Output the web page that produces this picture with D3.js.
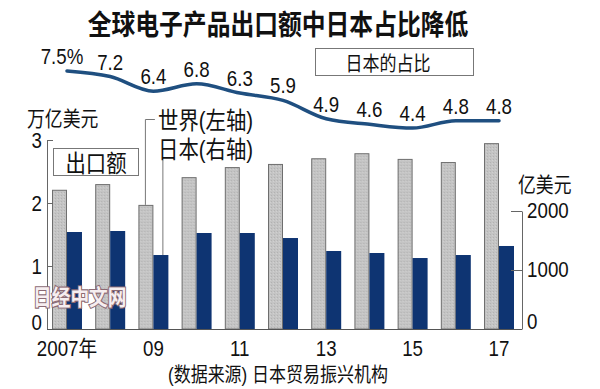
<!DOCTYPE html>
<html>
<head>
<meta charset="utf-8">
<script src="https://cdn.jsdelivr.net/npm/d3@7"></script>
<style>
  body { margin: 0; background: #fff; }
  svg { display: block; }
  text { font-family: "Liberation Sans", "Noto Sans CJK SC", sans-serif; fill: #111; }
</style>
</head>
<body>
<div class="canvas"></div>
<script>
// data
const years = [2007, 2008, 2009, 2010, 2011, 2012, 2013, 2014, 2015, 2016, 2017];
const yearLabels = ['2007年', '', '09', '', '11', '', '13', '', '15', '', '17'];
const worldExports = [2.21, 2.30, 1.97, 2.41, 2.57, 2.62, 2.71, 2.79, 2.70, 2.65, 2.95]; // 万亿美元 (left)
const japanExports = [1644, 1661, 1254, 1627, 1627, 1542, 1322, 1288, 1203, 1254, 1407]; // 亿美元 (right)
const japanShare = [7.5, 7.2, 6.4, 6.8, 6.3, 5.9, 4.9, 4.6, 4.4, 4.8, 4.8]; // %
const shareLabels = ['7.5%', '7.2', '6.4', '6.8', '6.3', '5.9', '4.9', '4.6', '4.4', '4.8', '4.8'];
const leftTicks = [0, 1, 2, 3];
const rightTicks = [0, 1000, 2000];

// dimensions
const dims = { width: 600, height: 389 };
const axisL = 47, axisR = 522, base = 329;
const sx = 0.85; // the lettering in the picture is squeezed sideways

const svg = d3.select('.canvas')
  .append('svg')
  .attr('width', dims.width)
  .attr('height', dims.height);

// little stipple for the grey bars
const pat = svg.append('defs').append('pattern')
  .attr('id', 'dots')
  .attr('width', 3).attr('height', 3)
  .attr('patternUnits', 'userSpaceOnUse');
pat.append('rect').attr('width', 3).attr('height', 3).attr('fill', '#c4c4c4');
pat.append('rect').attr('width', 1).attr('height', 1).attr('fill', '#b2b2b2');
pat.append('rect').attr('x', 2).attr('y', 1).attr('width', 1).attr('height', 1).attr('fill', '#d0d0d0');

// scales
const x = d3.scaleBand().domain(years).range([52, 514]).paddingInner(0.306).paddingOuter(0);
const x1 = d3.scaleBand().domain(['world', 'japan']).range([0, x.bandwidth()]);
const yL = d3.scaleLinear().domain([0, 3]).range([base, 140]);
const yR = d3.scaleLinear().domain([0, 2000]).range([base, 211]);
const yS = d3.scaleLinear().domain([4.4, 7.5]).range([128, 71]);

// helper for squeezed text
const label = (sel, str, px, py, size, anchor = 'start', weight = 'normal') =>
  sel.append('text')
    .attr('transform', `translate(${px},${py}) scale(${sx},1)`)
    .attr('font-size', size)
    .attr('font-weight', weight)
    .attr('text-anchor', anchor)
    .text(str);

// title
label(svg, '全球电子产品出口额中日本占比降低', 278, 35, 28, 'middle', 'bold')
  .style('font-family', '"Noto Sans CJK SC", sans-serif');

// bars
const groups = svg.append('g').selectAll('g')
  .data(years)
  .enter().append('g')
  .attr('transform', d => `translate(${x(d)},0)`);

groups.append('rect')
  .attr('x', x1('world') + 0.5)
  .attr('y', (d, i) => yL(worldExports[i]) + 0.5)
  .attr('width', x1.bandwidth() - 1)
  .attr('height', (d, i) => base - yL(worldExports[i]) - 0.5)
  .attr('fill', 'url(#dots)')
  .attr('stroke', '#6e6e6e')
  .attr('stroke-width', 1);

groups.append('rect')
  .attr('x', x1('japan'))
  .attr('y', (d, i) => yR(japanExports[i]))
  .attr('width', x1.bandwidth())
  .attr('height', (d, i) => base - yR(japanExports[i]))
  .attr('fill', '#0e3472');

// left axis (ticks point inward)
const gL = svg.append('g')
  .attr('transform', `translate(${axisL},0)`)
  .call(d3.axisLeft(yL).tickValues(leftTicks).tickFormat(d3.format('d'))
    .tickSizeInner(-6).tickSizeOuter(0).tickPadding(6));
gL.selectAll('path, line').attr('stroke', '#666');
gL.selectAll('text')
  .attr('font-size', 22)
  .attr('font-family', null)
  .attr('transform', d => `translate(0,${d === 0 ? -7 : 0}) scale(${sx},1)`);

// right axis
const gR = svg.append('g')
  .attr('transform', `translate(${axisR},0)`)
  .call(d3.axisRight(yR).tickValues(rightTicks).tickFormat(d3.format('d'))
    .tickSizeInner(-11).tickSizeOuter(0).tickPadding(6));
gR.selectAll('path, line').attr('stroke', '#666');
gR.selectAll('text')
  .attr('font-size', 22)
  .attr('font-family', null)
  .attr('transform', d => `translate(0,${d === 0 ? -8 : -1}) scale(${sx},1)`);

svg.selectAll('.domain').attr('stroke', '#666');

// baseline
svg.append('line')
  .attr('x1', axisL).attr('x2', axisR)
  .attr('y1', base + 0.5).attr('y2', base + 0.5)
  .attr('stroke', '#555');

// x labels
svg.append('g').selectAll('text')
  .data(years)
  .enter().append('text')
  .attr('transform', d => `translate(${x(d) + x.bandwidth() / 2},356) scale(${sx},1)`)
  .attr('text-anchor', 'middle')
  .attr('font-size', 22)
  .text((d, i) => yearLabels[i]);

// unit labels
label(svg, '万亿美元', 27, 126, 21);
label(svg, '亿美元', 518, 192, 21);

// "出口额" box
svg.append('rect')
  .attr('x', 53.5).attr('y', 148.5).attr('width', 85).attr('height', 27)
  .attr('fill', '#fff').attr('stroke', '#777');
label(svg, '出口额', 96, 172, 24, 'middle');

// legend leaders
const xc09 = x(2009);
svg.append('path')
  .attr('d', `M${xc09 + x1.bandwidth() / 2 + 9},119.5H${xc09 + x1.bandwidth() / 2 - 0.5}V${yL(worldExports[2])}`)
  .attr('fill', 'none').attr('stroke', '#777');
svg.append('line')
  .attr('x1', xc09 + x1('japan') + x1.bandwidth() / 2 + 2)
  .attr('x2', xc09 + x1('japan') + x1.bandwidth() / 2 + 2)
  .attr('y1', 160).attr('y2', yR(japanExports[2]))
  .attr('stroke', '#777');
label(svg, '世界(左轴)', 158, 129, 24);
label(svg, '日本(右轴)', 158, 158, 24);

// share line
const line = d3.line()
  .x((d, i) => x(years[i]) + x.bandwidth() / 2)
  .y(d => yS(d))
  .curve(d3.curveMonotoneX);

svg.append('path')
  .datum(japanShare)
  .attr('d', line)
  .attr('fill', 'none')
  .attr('stroke', '#1f4f80')
  .attr('stroke-width', 3.5)
  .attr('stroke-linecap', 'round');

svg.append('g').selectAll('text')
  .data(japanShare)
  .enter().append('text')
  .attr('transform', (d, i) => `translate(${x(years[i]) + x.bandwidth() / 2 - (i === 0 ? 5 : 0)},${yS(d) - 7}) scale(${sx},1)`)
  .attr('text-anchor', 'middle')
  .attr('font-size', 22)
  .text((d, i) => shareLabels[i]);

// "日本的占比" box
svg.append('rect')
  .attr('x', 315.5).attr('y', 48.5).attr('width', 158).attr('height', 27)
  .attr('fill', '#fff').attr('stroke', '#777');
label(svg, '日本的占比', 388, 71, 20, 'middle');

// source
label(svg, '(数据来源) 日本贸易振兴机构', 168, 382, 20);

// watermark
label(svg, '日经中文网', 33, 305, 22, 'start', 'bold')
  .style('font-family', '"Noto Sans CJK SC", sans-serif')
  .style('fill', '#f6eef0')
  .attr('stroke', '#8c6a74')
  .attr('stroke-width', 2.2)
  .attr('paint-order', 'stroke');
</script>
</body>
</html>
